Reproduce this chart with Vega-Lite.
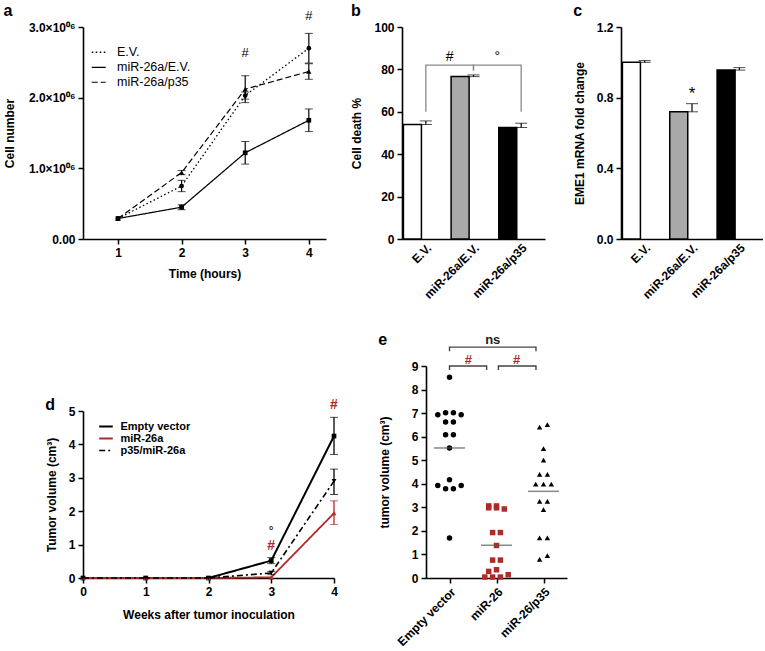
{
  "$schema": "https://vega.github.io/schema/vega-lite/v6.json",
  "padding": {"left": 3, "top": 3, "right": 0, "bottom": 0},
  "bounds": "flush",
  "spacing": 339,
  "resolve": {
    "scale": {"color": "independent", "fill": "independent", "strokeDash": "independent", "strokeWidth": "independent", "shape": "independent"},
    "legend": {"color": "independent", "fill": "independent", "strokeDash": "independent", "strokeWidth": "independent", "shape": "independent"}
  },
  "vconcat": [
    {
      "bounds": "flush",
      "spacing": 76,
      "resolve": {
        "scale": {"color": "independent", "fill": "independent", "strokeDash": "independent", "strokeWidth": "independent", "shape": "independent"},
        "legend": {"color": "independent", "fill": "independent", "strokeDash": "independent", "strokeWidth": "independent", "shape": "independent"}
      },
      "hconcat": [
        {
          "width": 243,
          "height": 212,
          "title": {"text": "a", "offset": -9},
          "data": {"values": [
            {"t": 1, "s": "E.V.", "v": 290000},
            {"t": 2, "s": "E.V.", "v": 750000, "lo": 670000, "hi": 830000},
            {"t": 3, "s": "E.V.", "v": 2030000, "lo": 1980000, "hi": 2080000},
            {"t": 4, "s": "E.V.", "v": 2700000, "lo": 2490000, "hi": 2910000},
            {"t": 1, "s": "miR-26a/E.V.", "v": 290000},
            {"t": 2, "s": "miR-26a/E.V.", "v": 450000, "lo": 415000, "hi": 485000},
            {"t": 3, "s": "miR-26a/E.V.", "v": 1220000, "lo": 1060000, "hi": 1380000},
            {"t": 4, "s": "miR-26a/E.V.", "v": 1680000, "lo": 1520000, "hi": 1840000},
            {"t": 1, "s": "miR-26a/p35", "v": 290000},
            {"t": 2, "s": "miR-26a/p35", "v": 940000, "lo": 910000, "hi": 970000},
            {"t": 3, "s": "miR-26a/p35", "v": 2120000, "lo": 1930000, "hi": 2310000},
            {"t": 4, "s": "miR-26a/p35", "v": 2370000, "lo": 2260000, "hi": 2480000}
          ]},
          "layer": [
            {
              "mark": {"type": "line", "color": "black"},
              "encoding": {
                "x": {"field": "t", "type": "quantitative", "scale": {"domain": [0.45, 4.27], "nice": false, "zero": false},
                      "axis": {"values": [1, 2, 3, 4], "format": "d", "title": "Time (hours)", "titlePadding": 10, "labelOverlap": false}},
                "y": {"field": "v", "type": "quantitative", "scale": {"domain": [0, 3000000], "nice": false},
                      "axis": {"values": [0, 1000000, 2000000, 3000000], "labelExpr": "datum.value == 0 ? '0.00' : format(datum.value/1000000, '.1f') + '×10⁰⁶'", "title": "Cell number", "titlePadding": 12, "labelOverlap": false}},
                "strokeDash": {"field": "s", "type": "nominal", "scale": {"domain": ["E.V.", "miR-26a/E.V.", "miR-26a/p35"], "range": [[1.5, 2.5], [1, 0], [6, 3]]},
                      "legend": {"orient": "none", "legendX": 9.5, "legendY": 19, "title": null, "symbolType": "M-1.4,0H1.4", "symbolSize": 100, "symbolStrokeColor": "black", "labelFontSize": 12.5, "labelFontWeight": "normal", "labelColor": "black", "labelOffset": 12, "rowPadding": 2, "padding": 0}},
                "strokeWidth": {"field": "s", "type": "nominal", "scale": {"domain": ["E.V.", "miR-26a/E.V.", "miR-26a/p35"], "range": [1.3, 1.2, 2.2]},
                      "legend": {"orient": "none", "legendX": 9.5, "legendY": 19, "title": null, "symbolType": "M-1.4,0H1.4", "symbolSize": 100, "symbolStrokeColor": "black", "labelFontSize": 12.5, "labelFontWeight": "normal", "labelColor": "black", "labelOffset": 12, "rowPadding": 2, "padding": 0}}
              }
            },
            {
              "mark": {"type": "errorbar", "ticks": {"size": 8, "color": "black", "strokeWidth": 1.2}, "rule": {"color": "black", "strokeWidth": 1.2}},
              "encoding": {
                "x": {"field": "t", "type": "quantitative"},
                "y": {"field": "lo", "type": "quantitative", "title": "Cell number"},
                "y2": {"field": "hi"}
              }
            },
            {
              "transform": [{"filter": "datum.s == 'E.V.'"}],
              "mark": {"type": "point", "filled": true, "color": "black", "size": 22, "opacity": 1, "shape": "circle"},
              "encoding": {
                "x": {"field": "t", "type": "quantitative"},
                "y": {"field": "v", "type": "quantitative", "title": "Cell number"}
              }
            },
            {
              "transform": [{"filter": "datum.s == 'miR-26a/E.V.'"}],
              "mark": {"type": "point", "filled": true, "color": "black", "size": 22, "opacity": 1, "shape": "square"},
              "encoding": {
                "x": {"field": "t", "type": "quantitative"},
                "y": {"field": "v", "type": "quantitative", "title": "Cell number"}
              }
            },
            {
              "transform": [{"filter": "datum.s == 'miR-26a/p35'"}],
              "mark": {"type": "point", "filled": true, "color": "black", "size": 28, "opacity": 1, "shape": "triangle-up"},
              "encoding": {
                "x": {"field": "t", "type": "quantitative"},
                "y": {"field": "v", "type": "quantitative", "title": "Cell number"}
              }
            },
            {
              "data": {"values": [{"t": 3, "v": 2630000, "txt": "#"}, {"t": 4, "v": 3150000, "txt": "#"}]},
              "mark": {"type": "text", "fontSize": 13, "color": "black", "font": "Liberation Sans"},
              "encoding": {
                "x": {"field": "t", "type": "quantitative"},
                "y": {"field": "v", "type": "quantitative", "title": "Cell number"},
                "text": {"field": "txt"}
              }
            }
          ]
        },
        {
          "width": 143,
          "height": 212,
          "title": {"text": "b", "offset": 2},
          "layer": [
            {
              "data": {"values": [
                {"g": "E.V.", "v": 54.0, "hi": 55.7},
                {"g": "miR-26a/E.V.", "v": 76.6, "hi": 77.4},
                {"g": "miR-26a/p35", "v": 52.6, "hi": 54.6}
              ]},
              "layer": [
                {
                  "mark": {"type": "bar", "stroke": "black", "strokeWidth": 1.5},
                  "encoding": {
                    "x": {"field": "g", "type": "nominal", "sort": null, "scale": {"paddingInner": 0.06, "paddingOuter": 0.03},
                          "axis": {"labelAngle": -45, "ticks": false, "title": null}},
                    "y": {"field": "v", "type": "quantitative", "scale": {"domain": [0, 100], "nice": false},
                          "axis": {"values": [0, 20, 40, 60, 80, 100], "title": "Cell death %", "titlePadding": 10, "labelOverlap": false}},
                    "fill": {"field": "g", "type": "nominal", "scale": {"domain": ["E.V.", "miR-26a/E.V.", "miR-26a/p35"], "range": ["white", "#a9a9a9", "black"]}, "legend": null}
                  }
                },
                {
                  "mark": {"type": "errorbar", "ticks": {"size": 12, "color": "black", "strokeWidth": 1.2}, "rule": {"color": "black", "strokeWidth": 1.2}},
                  "encoding": {
                    "x": {"field": "g", "type": "nominal", "sort": null},
                    "y": {"field": "v", "type": "quantitative", "title": "Cell death %"},
                    "y2": {"field": "hi"}
                  }
                }
              ]
            },
            {
              "layer": [
                {
                  "data": {"values": [
                    {"bx": 0, "by": 60, "k": 1, "o": 1}, {"bx": 0, "by": 82, "k": 1, "o": 2}, {"bx": 1, "by": 82, "k": 1, "o": 3}, {"bx": 1, "by": 79.5, "k": 1, "o": 4},
                    {"bx": 1, "by": 79.5, "k": 2, "o": 1}, {"bx": 1, "by": 82, "k": 2, "o": 2}, {"bx": 2, "by": 82, "k": 2, "o": 3}, {"bx": 2, "by": 60, "k": 2, "o": 4}
                  ]},
                  "mark": {"type": "line", "color": "#8a8a8a", "strokeWidth": 1.3},
                  "encoding": {
                    "x": {"field": "bx", "type": "quantitative", "scale": {"domain": [-0.5, 2.5], "nice": false, "zero": false}, "axis": null},
                    "y": {"field": "by", "type": "quantitative", "title": "Cell death %"},
                    "detail": {"field": "k"},
                    "order": {"field": "o"}
                  }
                },
                {
                  "data": {"values": [{"bx": 0.5, "by": 86, "txt": "#"}, {"bx": 1.5, "by": 86, "txt": "°"}]},
                  "mark": {"type": "text", "fontSize": 14, "color": "black"},
                  "encoding": {
                    "x": {"field": "bx", "type": "quantitative", "scale": {"domain": [-0.5, 2.5], "nice": false, "zero": false}, "axis": null},
                    "y": {"field": "by", "type": "quantitative", "title": "Cell death %"},
                    "text": {"field": "txt"}
                  }
                }
              ]
            }
          ],
          "resolve": {"scale": {"x": "independent"}}
        },
        {
          "width": 142,
          "height": 212,
          "title": {"text": "c", "offset": 2},
          "data": {"values": [
            {"g": "E.V.", "v": 1.0, "hi": 1.01},
            {"g": "miR-26a/E.V.", "v": 0.72, "hi": 0.766},
            {"g": "miR-26a/p35", "v": 0.956, "hi": 0.97}
          ]},
          "layer": [
            {
              "mark": {"type": "bar", "stroke": "black", "strokeWidth": 1.5},
              "encoding": {
                "x": {"field": "g", "type": "nominal", "sort": null, "scale": {"paddingInner": 0.06, "paddingOuter": 0.03},
                      "axis": {"labelAngle": -45, "ticks": false, "title": null}},
                "y": {"field": "v", "type": "quantitative", "scale": {"domain": [0, 1.2], "nice": false},
                      "axis": {"values": [0, 0.4, 0.8, 1.2], "format": ".1f", "title": "EME1 mRNA fold change", "titlePadding": 10, "labelOverlap": false}},
                "fill": {"field": "g", "type": "nominal", "scale": {"domain": ["E.V.", "miR-26a/E.V.", "miR-26a/p35"], "range": ["white", "#a9a9a9", "black"]}, "legend": null}
              }
            },
            {
              "mark": {"type": "errorbar", "ticks": {"size": 12, "color": "black", "strokeWidth": 1.2}, "rule": {"color": "black", "strokeWidth": 1.2}},
              "encoding": {
                "x": {"field": "g", "type": "nominal", "sort": null},
                "y": {"field": "v", "type": "quantitative", "title": "EME1 mRNA fold change"},
                "y2": {"field": "hi"}
              }
            },
            {
              "data": {"values": [{"g": "miR-26a/E.V.", "v": 0.82, "txt": "*"}]},
              "mark": {"type": "text", "fontSize": 17, "color": "black"},
              "encoding": {
                "x": {"field": "g", "type": "nominal", "sort": null},
                "y": {"field": "v", "type": "quantitative", "title": "EME1 mRNA fold change"},
                "text": {"field": "txt"}
              }
            }
          ]
        }
      ]
    },
    {
      "bounds": "flush",
      "spacing": 343,
      "resolve": {
        "scale": {"color": "independent", "fill": "independent", "strokeDash": "independent", "strokeWidth": "independent", "shape": "independent"},
        "legend": {"color": "independent", "fill": "independent", "strokeDash": "independent", "strokeWidth": "independent", "shape": "independent"}
      },
      "hconcat": [
        {
          "bounds": "flush",
          "spacing": 44,
          "vconcat": [
            {
              "width": 251,
              "height": 1,
              "data": {"values": [{"a": 1}]},
              "mark": {"type": "point", "opacity": 0},
              "encoding": {}
            },
            {
              "width": 251,
              "height": 167,
              "title": {"text": "d", "offset": -15},
              "data": {"values": [
                {"w": 0, "s": "Empty vector", "v": 0},
                {"w": 1, "s": "Empty vector", "v": 0},
                {"w": 2, "s": "Empty vector", "v": 0},
                {"w": 3, "s": "Empty vector", "v": 0.52, "lo": 0.43, "hi": 0.61},
                {"w": 4, "s": "Empty vector", "v": 4.25, "lo": 3.7, "hi": 4.81},
                {"w": 0, "s": "miR-26a", "v": 0},
                {"w": 1, "s": "miR-26a", "v": 0},
                {"w": 2, "s": "miR-26a", "v": 0},
                {"w": 3, "s": "miR-26a", "v": 0.02},
                {"w": 4, "s": "miR-26a", "v": 1.94, "lo": 1.6, "hi": 2.31},
                {"w": 0, "s": "p35/miR-26a", "v": 0},
                {"w": 1, "s": "p35/miR-26a", "v": 0},
                {"w": 2, "s": "p35/miR-26a", "v": 0},
                {"w": 3, "s": "p35/miR-26a", "v": 0.15, "lo": 0.1, "hi": 0.2},
                {"w": 4, "s": "p35/miR-26a", "v": 2.9, "lo": 2.5, "hi": 3.26}
              ]},
              "layer": [
                {
                  "mark": {"type": "line"},
                  "encoding": {
                    "x": {"field": "w", "type": "quantitative", "scale": {"domain": [0, 4], "nice": false},
                          "axis": {"values": [0, 1, 2, 3, 4], "format": "d", "title": "Weeks after tumor inoculation", "titlePadding": 12, "labelOverlap": false}},
                    "y": {"field": "v", "type": "quantitative", "scale": {"domain": [0, 5], "nice": false},
                          "axis": {"values": [0, 1, 2, 3, 4, 5], "tickCount": 6, "format": "d", "title": "Tumor volume (cm³)", "titlePadding": 10, "labelOverlap": false}},
                    "color": {"field": "s", "type": "nominal", "scale": {"domain": ["Empty vector", "miR-26a", "p35/miR-26a"], "range": ["black", "#b02a2a", "black"]},
                          "legend": {"orient": "none", "legendX": 17.5, "legendY": 55, "title": null, "symbolType": "M-1.7,0H1.7", "symbolSize": 64, "labelFontSize": 11, "labelFontWeight": "bold", "labelColor": "black", "labelOffset": 9, "rowPadding": 0, "padding": 0}},
                    "strokeDash": {"field": "s", "type": "nominal", "scale": {"domain": ["Empty vector", "miR-26a", "p35/miR-26a"], "range": [[1, 0], [1, 0], [6, 3, 2, 3]]},
                          "legend": {"orient": "none", "legendX": 17.5, "legendY": 55, "title": null, "symbolType": "M-1.7,0H1.7", "symbolSize": 64, "labelFontSize": 11, "labelFontWeight": "bold", "labelColor": "black", "labelOffset": 9, "rowPadding": 0, "padding": 0}},
                    "strokeWidth": {"field": "s", "type": "nominal", "scale": {"domain": ["Empty vector", "miR-26a", "p35/miR-26a"], "range": [2, 1.6, 2]},
                          "legend": {"orient": "none", "legendX": 17.5, "legendY": 55, "title": null, "symbolType": "M-1.7,0H1.7", "symbolSize": 64, "labelFontSize": 11, "labelFontWeight": "bold", "labelColor": "black", "labelOffset": 9, "rowPadding": 0, "padding": 0}}
                  }
                },
                {
                  "mark": {"type": "errorbar", "ticks": {"size": 8, "strokeWidth": 1.3}, "rule": {"strokeWidth": 1.3}},
                  "encoding": {
                    "x": {"field": "w", "type": "quantitative"},
                    "y": {"field": "lo", "type": "quantitative", "title": "Tumor volume (cm³)", "axis": {"values": [0, 1, 2, 3, 4, 5], "tickCount": 6, "format": "d", "title": "Tumor volume (cm³)", "titlePadding": 10, "labelOverlap": false}},
                    "y2": {"field": "hi"},
                    "color": {"field": "s", "type": "nominal", "legend": null}
                  }
                },
                {
                  "transform": [{"filter": "datum.s == 'Empty vector'"}],
                  "mark": {"type": "point", "filled": true, "size": 22, "opacity": 1, "shape": "square", "color": "black"},
                  "encoding": {
                    "x": {"field": "w", "type": "quantitative"},
                    "y": {"field": "v", "type": "quantitative", "title": "Tumor volume (cm³)"}
                  }
                },
                {
                  "transform": [{"filter": "datum.s == 'miR-26a'"}],
                  "mark": {"type": "point", "filled": true, "size": 24, "opacity": 1, "shape": "triangle-up", "color": "#b02a2a"},
                  "encoding": {
                    "x": {"field": "w", "type": "quantitative"},
                    "y": {"field": "v", "type": "quantitative", "title": "Tumor volume (cm³)"}
                  }
                },
                {
                  "transform": [{"filter": "datum.s == 'p35/miR-26a'"}],
                  "mark": {"type": "point", "filled": true, "size": 24, "opacity": 1, "shape": "triangle-down", "color": "black"},
                  "encoding": {
                    "x": {"field": "w", "type": "quantitative"},
                    "y": {"field": "v", "type": "quantitative", "title": "Tumor volume (cm³)"}
                  }
                },
                {
                  "data": {"values": [
                    {"w": 3, "v": 0.95, "txt": "#"},
                    {"w": 4, "v": 5.18, "txt": "#"}
                  ]},
                  "mark": {"type": "text", "fontSize": 14, "fontWeight": "bold", "color": "#b02a2a"},
                  "encoding": {
                    "x": {"field": "w", "type": "quantitative"},
                    "y": {"field": "v", "type": "quantitative", "title": "Tumor volume (cm³)"},
                    "text": {"field": "txt"}
                  }
                },
                {
                  "data": {"values": [
                    {"w": 3, "v": 1.42, "txt": "°"}
                  ]},
                  "mark": {"type": "text", "fontSize": 12, "fontWeight": "bold", "color": "#333333"},
                  "encoding": {
                    "x": {"field": "w", "type": "quantitative"},
                    "y": {"field": "v", "type": "quantitative", "title": "Tumor volume (cm³)"},
                    "text": {"field": "txt"}
                  }
                }
              ]
            }
          ]
        },
        {
          "width": 141,
          "height": 212,
          "title": {"text": "e", "offset": -14},
          "layer": [
            {
              "layer": [
                {
                  "data": {"values": [
                    {"g": "Empty vector", "v": 8.52, "j": 0}, {"g": "Empty vector", "v": 6.93, "j": -3}, {"g": "Empty vector", "v": 7.02, "j": -1}, {"g": "Empty vector", "v": 7.02, "j": 1},
                    {"g": "Empty vector", "v": 6.93, "j": 3}, {"g": "Empty vector", "v": 6.62, "j": -1}, {"g": "Empty vector", "v": 6.62, "j": 1}, {"g": "Empty vector", "v": 6.08, "j": -1},
                    {"g": "Empty vector", "v": 6.08, "j": 1}, {"g": "Empty vector", "v": 5.52, "j": 0}, {"g": "Empty vector", "v": 4.17, "j": 0}, {"g": "Empty vector", "v": 3.93, "j": -3},
                    {"g": "Empty vector", "v": 3.93, "j": 3}, {"g": "Empty vector", "v": 3.79, "j": -1}, {"g": "Empty vector", "v": 3.79, "j": 1}, {"g": "Empty vector", "v": 1.7, "j": 0},
                    {"g": "miR-26", "v": 3.06, "j": -2}, {"g": "miR-26", "v": 2.98, "j": -2}, {"g": "miR-26", "v": 3.06, "j": 0}, {"g": "miR-26", "v": 2.98, "j": 0},
                    {"g": "miR-26", "v": 2.93, "j": 2}, {"g": "miR-26", "v": 1.93, "j": -1}, {"g": "miR-26", "v": 1.93, "j": 1}, {"g": "miR-26", "v": 1.38, "j": 0},
                    {"g": "miR-26", "v": 0.76, "j": -1}, {"g": "miR-26", "v": 0.76, "j": 1}, {"g": "miR-26", "v": 0.28, "j": -2}, {"g": "miR-26", "v": 0.35, "j": 0},
                    {"g": "miR-26", "v": 0.14, "j": 3}, {"g": "miR-26", "v": 0.04, "j": -3}, {"g": "miR-26", "v": 0.04, "j": -1}, {"g": "miR-26", "v": 0.04, "j": 1},
                    {"g": "miR-26/p35", "v": 6.4, "j": -1}, {"g": "miR-26/p35", "v": 6.51, "j": 1}, {"g": "miR-26/p35", "v": 5.49, "j": 0}, {"g": "miR-26/p35", "v": 5.0, "j": 0},
                    {"g": "miR-26/p35", "v": 4.4, "j": -1}, {"g": "miR-26/p35", "v": 4.4, "j": 1}, {"g": "miR-26/p35", "v": 3.99, "j": -2}, {"g": "miR-26/p35", "v": 3.99, "j": 0},
                    {"g": "miR-26/p35", "v": 3.99, "j": 2}, {"g": "miR-26/p35", "v": 3.25, "j": -1}, {"g": "miR-26/p35", "v": 3.25, "j": 1}, {"g": "miR-26/p35", "v": 2.9, "j": 0},
                    {"g": "miR-26/p35", "v": 1.7, "j": -1}, {"g": "miR-26/p35", "v": 1.7, "j": 1}, {"g": "miR-26/p35", "v": 0.79, "j": -1}, {"g": "miR-26/p35", "v": 0.95, "j": 1}
                  ]},
                  "mark": {"type": "point", "filled": true, "size": 30, "opacity": 1},
                  "encoding": {
                    "x": {"field": "g", "type": "nominal", "sort": null, "scale": {"type": "point", "padding": 0.5},
                          "axis": {"labelAngle": -45, "title": null}},
                    "xOffset": {"field": "j", "type": "quantitative", "scale": {"domain": [-3, 3], "range": [-11.7, 11.7]}},
                    "y": {"field": "v", "type": "quantitative", "scale": {"domain": [0, 9], "nice": false},
                          "axis": {"values": [0, 1, 2, 3, 4, 5, 6, 7, 8, 9], "tickCount": 10, "format": "d", "title": "tumor volume (cm³)", "titlePadding": 20, "labelOverlap": false}},
                    "shape": {"field": "g", "type": "nominal", "scale": {"domain": ["Empty vector", "miR-26", "miR-26/p35"], "range": ["circle", "square", "triangle-up"]}, "legend": null},
                    "color": {"field": "g", "type": "nominal", "scale": {"domain": ["Empty vector", "miR-26", "miR-26/p35"], "range": ["black", "#b02a2a", "black"]}, "legend": null}
                  }
                },
                {
                  "data": {"values": [
                    {"g": "Empty vector", "m": 5.52},
                    {"g": "miR-26", "m": 1.39},
                    {"g": "miR-26/p35", "m": 3.68}
                  ]},
                  "mark": {"type": "tick", "orient": "horizontal", "size": 31, "thickness": 1.5, "color": "#555555"},
                  "encoding": {
                    "x": {"field": "g", "type": "nominal", "sort": null},
                    "y": {"field": "m", "type": "quantitative", "title": "tumor volume (cm³)"}
                  }
                }
              ]
            },
            {
              "layer": [
                {
                  "data": {"values": [
                    {"bx": 0, "by": 9.63, "k": 1, "o": 1}, {"bx": 0, "by": 9.8, "k": 1, "o": 2}, {"bx": 1.84, "by": 9.8, "k": 1, "o": 3}, {"bx": 1.84, "by": 9.63, "k": 1, "o": 4},
                    {"bx": 0, "by": 8.83, "k": 2, "o": 1}, {"bx": 0, "by": 9.0, "k": 2, "o": 2}, {"bx": 0.79, "by": 9.0, "k": 2, "o": 3}, {"bx": 0.79, "by": 8.83, "k": 2, "o": 4},
                    {"bx": 1.04, "by": 8.83, "k": 3, "o": 1}, {"bx": 1.04, "by": 9.0, "k": 3, "o": 2}, {"bx": 1.84, "by": 9.0, "k": 3, "o": 3}, {"bx": 1.84, "by": 8.83, "k": 3, "o": 4}
                  ]},
                  "mark": {"type": "line", "color": "#444444", "strokeWidth": 1.4},
                  "encoding": {
                    "x": {"field": "bx", "type": "quantitative", "scale": {"domain": [-0.5, 2.5], "nice": false, "zero": false}, "axis": null},
                    "y": {"field": "by", "type": "quantitative", "title": "tumor volume (cm³)"},
                    "detail": {"field": "k"},
                    "order": {"field": "o"}
                  }
                },
                {
                  "data": {"values": [
                    {"bx": 0.92, "by": 10.12, "txt": "ns"}
                  ]},
                  "mark": {"type": "text", "fontSize": 13, "fontWeight": "bold", "color": "#222222"},
                  "encoding": {
                    "x": {"field": "bx", "type": "quantitative", "scale": {"domain": [-0.5, 2.5], "nice": false, "zero": false}, "axis": null},
                    "y": {"field": "by", "type": "quantitative", "title": "tumor volume (cm³)"},
                    "text": {"field": "txt"}
                  }
                },
                {
                  "data": {"values": [
                    {"bx": 0.4, "by": 9.25, "txt": "#"},
                    {"bx": 1.43, "by": 9.25, "txt": "#"}
                  ]},
                  "mark": {"type": "text", "fontSize": 13, "fontWeight": "bold", "color": "#b02a2a"},
                  "encoding": {
                    "x": {"field": "bx", "type": "quantitative", "scale": {"domain": [-0.5, 2.5], "nice": false, "zero": false}, "axis": null},
                    "y": {"field": "by", "type": "quantitative", "title": "tumor volume (cm³)"},
                    "text": {"field": "txt"}
                  }
                }
              ]
            }
          ],
          "resolve": {"scale": {"x": "independent"}}
        }
      ]
    }
  ],
  "config": {
    "view": {"stroke": null},
    "font": "Liberation Sans",
    "axis": {
      "domainColor": "black", "domainWidth": 1.6, "tickColor": "black", "tickWidth": 1.5, "tickSize": 5,
      "labelFont": "Liberation Sans", "labelFontSize": 12, "labelFontWeight": "bold", "labelColor": "black",
      "titleFont": "Liberation Sans", "titleFontSize": 12, "titleFontWeight": "bold", "titleColor": "black",
      "grid": false, "labelPadding": 3, "labelFlush": false, "labelOverlap": false
    },
    "axisY": {"labelOverlap": false},
    "axisQuantitative": {"labelOverlap": false},
    "legend": {"labelFont": "Liberation Sans"},
    "title": {"fontSize": 16, "fontWeight": "bold", "anchor": "start", "frame": "bounds", "color": "black", "font": "Liberation Sans"}
  }
}
